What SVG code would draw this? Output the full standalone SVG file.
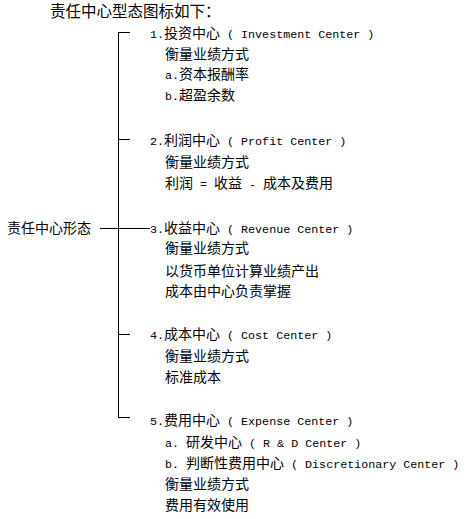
<svg xmlns="http://www.w3.org/2000/svg" width="469" height="519" viewBox="0 0 469 519">
<style>
text{font-family:"Noto Sans CJK SC","Liberation Sans",sans-serif;font-size:14px;fill:#000}
.t{font-size:15.5px}
.l{font-family:"Liberation Mono","DejaVu Sans Mono",monospace;font-size:11.7px}
.c line{stroke:#000;stroke-width:1;fill:none}
</style>
<rect width="469" height="519" fill="#fff"/>
<g id="title"><text class="t" x="50" y="17">责任中心型态图标如下：</text></g>
<g class="c" id="connectors">
<line x1="118.5" y1="32.5" x2="118.5" y2="417.5"/>
<line x1="118" y1="32.5" x2="130" y2="32.5"/>
<line x1="118" y1="139.5" x2="130" y2="139.5"/>
<line x1="100" y1="228.5" x2="150" y2="228.5"/>
<line x1="118" y1="334.5" x2="130" y2="334.5"/>
<line x1="118" y1="417.5" x2="130" y2="417.5"/>
</g>
<g id="root"><text x="7" y="233">责任中心形态</text></g>
<g id="n1">
<text x="150" y="38"><tspan class="l">1.</tspan>投资中心<tspan class="l"> ( Investment Center )</tspan></text>
<text x="165" y="59">衡量业绩方式</text>
<text x="165" y="79"><tspan class="l">a.</tspan>资本报酬率</text>
<text x="165" y="100"><tspan class="l">b.</tspan>超盈余数</text>
</g>
<g id="n2">
<text x="150" y="145"><tspan class="l">2.</tspan>利润中心<tspan class="l"> ( Profit Center )</tspan></text>
<text x="165" y="167">衡量业绩方式</text>
<text x="165" y="188">利润<tspan class="l"> = </tspan>收益<tspan class="l"> - </tspan>成本及费用</text>
</g>
<g id="n3">
<text x="150" y="233"><tspan class="l">3.</tspan>收益中心<tspan class="l"> ( Revenue Center )</tspan></text>
<text x="165" y="253">衡量业绩方式</text>
<text x="165" y="276">以货币单位计算业绩产出</text>
<text x="165" y="296">成本由中心负责掌握</text>
</g>
<g id="n4">
<text x="150" y="339"><tspan class="l">4.</tspan>成本中心<tspan class="l"> ( Cost Center )</tspan></text>
<text x="165" y="361">衡量业绩方式</text>
<text x="165" y="382">标准成本</text>
</g>
<g id="n5">
<text x="150" y="425"><tspan class="l">5.</tspan>费用中心<tspan class="l"> ( Expense Center )</tspan></text>
<text x="165" y="447"><tspan class="l">a. </tspan>研发中心<tspan class="l"> ( R &amp; D Center )</tspan></text>
<text x="165" y="468"><tspan class="l">b. </tspan>判断性费用中心<tspan class="l"> ( Discretionary Center )</tspan></text>
<text x="165" y="489">衡量业绩方式</text>
<text x="165" y="510">费用有效使用</text>
</g>
</svg>
